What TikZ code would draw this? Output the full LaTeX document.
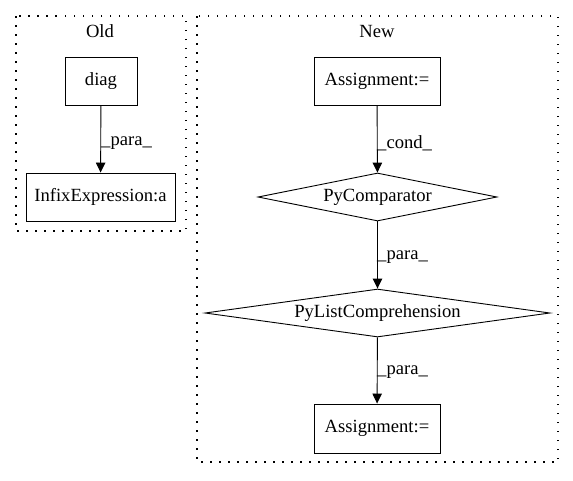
\documentclass[tikz,border=0pt]{standalone}
\usepackage{fontspec}
\setmainfont{Liberation Serif}
\usetikzlibrary{shapes.geometric,arrows.meta}
\begin{document}
\begin{tikzpicture}[x=1pt,y=1pt,
  every node/.style={font=\fontsize{18.6}{21}\selectfont},
  boxnode/.style={draw,line width=0.9pt,rectangle,inner sep=0pt},
  dianode/.style={draw,line width=0.9pt,diamond,aspect=6,inner sep=0pt},
  cluster/.style={draw,line width=1.2pt,dash pattern=on 1.5pt off 7.5pt},
  edge/.style={draw,line width=0.9pt,-{Triangle[length=10pt,width=9.5pt]}},
  elabel/.style={anchor=west,inner sep=0pt}]
\useasboundingbox (0,0) rectangle (573,-480);
% clusters
\draw[cluster] (16,-16) rectangle (186,-231);
\draw[cluster] (197,-16) rectangle (558,-462);
\node (oldlbl) at (100,-31) {Old};
\node (newlbl) at (377,-31) {New};
% old
\node[boxnode,minimum width=72pt,minimum height=48pt] (diag) at (101,-81) {diag};
\node[boxnode,minimum width=149pt,minimum height=48pt] (infix) at (100.5,-197) {InfixExpression:a};
\draw[edge] (diag) -- (infix);
\node[elabel] (l1) at (101,-143) {\_para\_};
% new
\node[boxnode,minimum width=126pt,minimum height=48pt] (asg1) at (377,-81) {Assignment:=};
\node[dianode,minimum width=239pt,minimum height=48pt] (pycomp) at (377.5,-197) {PyComparator};
\node[dianode,minimum width=345pt,minimum height=48pt] (pylist) at (377.5,-313) {PyListComprehension};
\node[boxnode,minimum width=126pt,minimum height=49pt] (asg2) at (377,-428.5) {Assignment:=};
\draw[edge] (asg1) -- (pycomp);
\draw[edge] (pycomp) -- (pylist);
\draw[edge] (pylist) -- (asg2);
\node[elabel] (l2) at (377,-143) {\_cond\_};
\node[elabel] (l3) at (377,-257) {\_para\_};
\node[elabel] (l4) at (377,-372) {\_para\_};
\end{tikzpicture}
\end{document}
